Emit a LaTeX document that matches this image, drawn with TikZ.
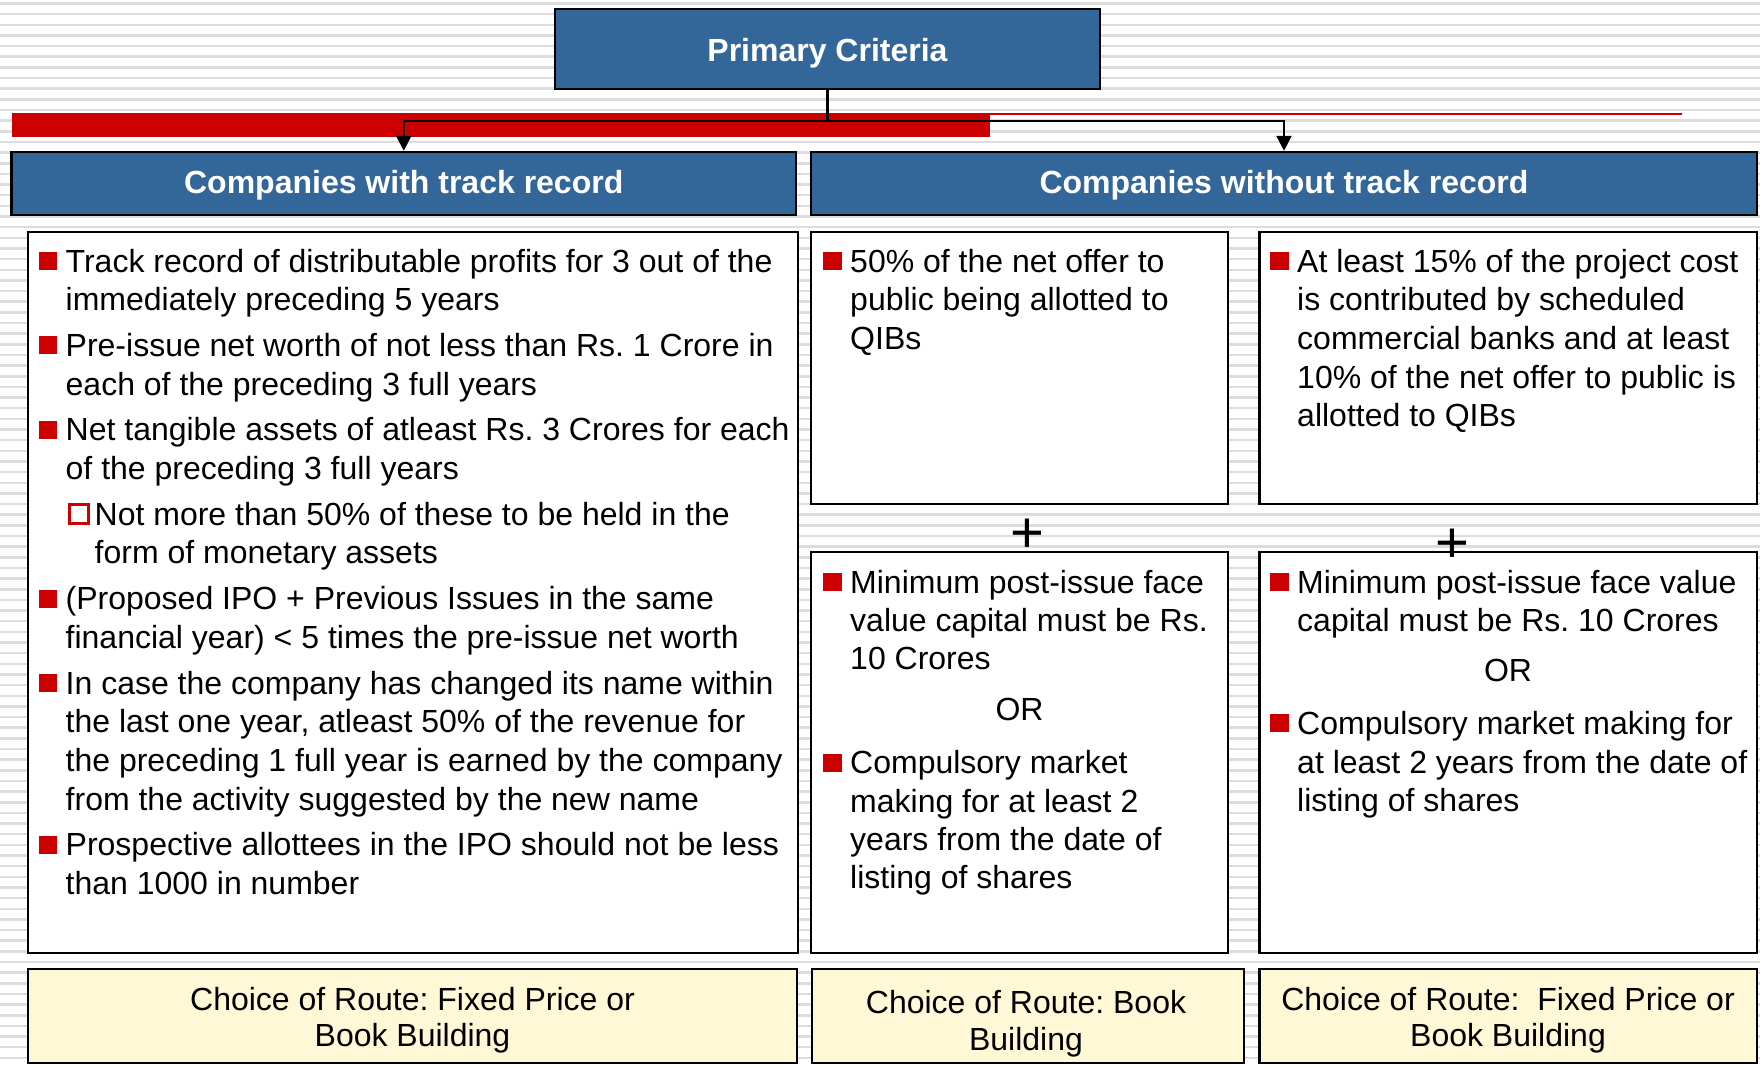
\documentclass[tikz,border=0pt]{standalone}
\usepackage{fontspec}
\setmainfont{Liberation Sans}
\usetikzlibrary{arrows.meta,calc}
\definecolor{hdrblue}{HTML}{336699}
\definecolor{bulred}{HTML}{CC0000}
\definecolor{cream}{HTML}{FFF8D6}
\definecolor{stripecol}{HTML}{DCDCDC}
\newcommand\txtsize{\fontsize{32}{38.7}\selectfont\frenchspacing}
\newcommand\bul[1]{\fill[bulred] ($(#1.base west)+(-27,-20)$) rectangle ++(18.5,18);}
\begin{document}
\begin{tikzpicture}[x=1pt,y=-1pt,
  box/.style={draw=black,line width=2.5pt,fill=white,inner sep=0pt},
  hdr/.style={draw=black,line width=2.5pt,fill=hdrblue,inner sep=0pt},
  route/.style={draw=black,line width=2.5pt,fill=cream,inner sep=0pt},
  ln/.style={anchor=base west,inner sep=0pt,font=\txtsize},
  ctr/.style={anchor=base,inner sep=0pt,font=\txtsize},
  htxt/.style={anchor=base,inner sep=0pt,font=\txtsize\bfseries,text=white},
  conn/.style={line width=2.5pt},
  arr/.style={conn,-{Triangle[width=15pt,length=15pt]}},
  plus/.style={anchor=base,inner sep=0pt,font=\fontsize{58}{60}\selectfont},
]
\useasboundingbox (0,0) rectangle (1760,1065);
\fill[white] (0,0) rectangle (1760,1065);
\foreach \k in {0,...,99}
  \draw[stripecol,line width=2.5pt] (0,3.5+10.65*\k) -- (1760,3.5+10.65*\k);

% red bar
\fill[bulred] (11.5,113) rectangle (990,137);
\draw[bulred,line width=2pt] (990,114) -- (1682,114);

% top box
\node[hdr,minimum width=545,minimum height=80] (prim) at (827.5,49) {};
\node[htxt] (primt) at (827.5,61) {Primary Criteria};

% headers
\node[hdr,minimum width=784.5,minimum height=63] (hl) at (403.75,183.5) {};
\node[htxt] (hlt) at (403.75,193) {Companies with track record};
\node[hdr,minimum width=946,minimum height=63] (hr) at (1284,183.5) {};
\node[htxt] (hrt) at (1284,193) {Companies without track record};

% connectors
\coordinate (j) at (827.5,121);
\draw[conn] (prim.south) -- (j);
\draw[arr] (j) -| (hl.north);
\draw[arr] (j) -| (hr.north);

% content boxes
\node[box,minimum width=770,minimum height=721] (lbox) at (413,592.5) {};
\node[box,minimum width=417,minimum height=272] (mtop) at (1019.5,368) {};
\node[box,minimum width=497.5,minimum height=272] (rtop) at (1508.25,368) {};
\node[box,minimum width=417,minimum height=401] (mlow) at (1019.5,752.5) {};
\node[box,minimum width=497.5,minimum height=401] (rlow) at (1508.25,752.5) {};

% route boxes
\node[route,minimum width=769,minimum height=94] (lroute) at (412.5,1016) {};
\node[route,minimum width=432,minimum height=94] (mroute) at (1028,1016) {};
\node[route,minimum width=497.5,minimum height=94] (rroute) at (1508.25,1016) {};

% left column text
\node[ln] (L1) at (65.5,272) {Track record of distributable profits for 3 out of the};
\node[ln] (L2) at (65.5,310.7) {immediately preceding 5 years};
\node[ln] (L3) at (65.5,356.4) {Pre-issue net worth of not less than Rs. 1 Crore in};
\node[ln] (L4) at (65.5,395.1) {each of the preceding 3 full years};
\node[ln] (L5) at (65.5,440.8) {Net tangible assets of atleast Rs. 3 Crores for each};
\node[ln] (L6) at (65.5,479.5) {of the preceding 3 full years};
\node[ln] (L7) at (94.5,525.2) {Not more than 50\% of these to be held in the};
\node[ln] (L8) at (94.5,563.9) {form of monetary assets};
\node[ln] (L9) at (65.5,609.6) {(Proposed IPO + Previous Issues in the same};
\node[ln] (L10) at (65.5,648.3) {financial year) < 5 times the pre-issue net worth};
\node[ln] (L11) at (65.5,694) {In case the company has changed its name within};
\node[ln] (L12) at (65.5,732.7) {the last one year, atleast 50\% of the revenue for};
\node[ln] (L13) at (65.5,771.4) {the preceding 1 full year is earned by the company};
\node[ln] (L14) at (65.5,810.1) {from the activity suggested by the new name};
\node[ln] (L15) at (65.5,855.8) {Prospective allottees in the IPO should not be less};
\node[ln] (L16) at (65.5,894.5) {than 1000 in number};
\bul{L1}\bul{L3}\bul{L5}\bul{L9}\bul{L11}\bul{L15}
\draw[bulred,line width=2.6pt] ($(L7.base west)+(-25,-21)$) rectangle ++(19,19);

% middle top
\node[ln] (M1) at (850,272) {50\% of the net offer to};
\node[ln] (M2) at (850,310.7) {public being allotted to};
\node[ln] (M3) at (850,349.4) {QIBs};
\bul{M1}

% right top
\node[ln] (R1) at (1297,272) {At least 15\% of the project cost};
\node[ln] (R2) at (1297,310.7) {is contributed by scheduled};
\node[ln] (R3) at (1297,349.4) {commercial banks and at least};
\node[ln] (R4) at (1297,388.1) {10\% of the net offer to public is};
\node[ln] (R5) at (1297,426.8) {allotted to QIBs};
\bul{R1}

% middle lower
\node[ln] (N1) at (850,593) {Minimum post-issue face};
\node[ln] (N2) at (850,631.2) {value capital must be Rs.};
\node[ln] (N3) at (850,669.4) {10 Crores};
\node[ctr] (Nor) at (1019.5,720) {OR};
\node[ln] (N5) at (850,773.7) {Compulsory market};
\node[ln] (N6) at (850,812) {making for at least 2};
\node[ln] (N7) at (850,850.3) {years from the date of};
\node[ln] (N8) at (850,888.6) {listing of shares};
\bul{N1}\bul{N5}

% right lower
\node[ln] (P1) at (1297,593) {Minimum post-issue face value};
\node[ln] (P2) at (1297,631.2) {capital must be Rs. 10 Crores};
\node[ctr] (Por) at (1508,681) {OR};
\node[ln] (P4) at (1297,734.4) {Compulsory market making for};
\node[ln] (P5) at (1297,773.1) {at least 2 years from the date of};
\node[ln] (P6) at (1297,811.8) {listing of shares};
\bul{P1}\bul{P4}

% plus signs
\node[plus] (plusm) at (1027,552) {+};
\node[plus] (plusr) at (1452,562) {+};

% route texts
\node[ctr] (lr1) at (412.5,1010) {Choice of Route: Fixed Price or};
\node[ctr] (lr2) at (412.5,1046.7) {Book Building};
\node[ctr] (mr1) at (1026,1013.3) {Choice of Route: Book};
\node[ctr] (mr2) at (1026,1050) {Building};
\node[ctr] (rr1) at (1508,1010) {Choice of Route:~ Fixed Price or};
\node[ctr] (rr2) at (1508,1046.7) {Book Building};
\end{tikzpicture}
\end{document}
